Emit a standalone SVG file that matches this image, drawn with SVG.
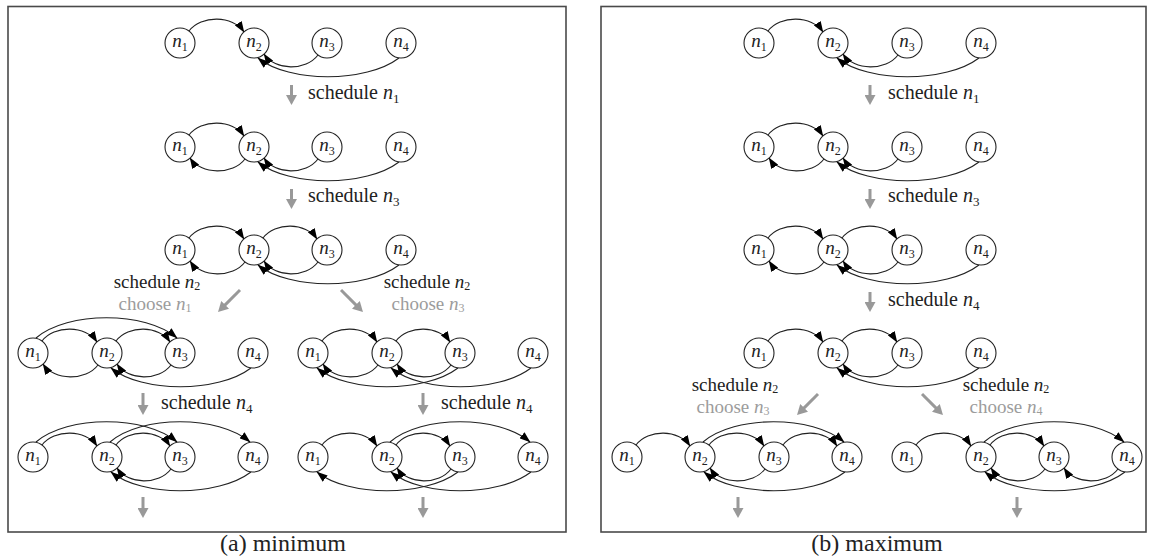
<svg xmlns="http://www.w3.org/2000/svg" width="1153" height="559" viewBox="0 0 1153 559">
<defs>
<style>
.frame{fill:none;stroke:#4a4a4a;stroke-width:1.6}
.e{fill:none;stroke:#222;stroke-width:1.1;marker-end:url(#ah)}
.g{stroke:#999;stroke-width:3;marker-end:url(#gh)}
.t{font-size:20px;fill:#222}
.b{font-size:19px}
.mid{text-anchor:middle}
.c{fill:#9c9c9c}
.m{font-style:italic}
.s{font-size:13px}
.b .s{font-size:12px}
.cap{font-size:24px;fill:#222;text-anchor:middle}
.node circle{fill:#fff;stroke:#222;stroke-width:1.1}
.node text{font-size:19px;fill:#222;text-anchor:middle}
.node .s{font-size:12px}
</style>
<marker id="ah" viewBox="0 0 11 8" refX="10.5" refY="4" markerWidth="11" markerHeight="8" orient="auto" markerUnits="userSpaceOnUse"><path d="M0,0 L11,4 L0,8 z" fill="#000"/></marker>
<marker id="gh" viewBox="0 0 10 11" refX="1" refY="5.5" markerWidth="10" markerHeight="11" orient="auto" markerUnits="userSpaceOnUse"><path d="M0,0 L10,5.5 L0,11 z" fill="#999"/></marker>
</defs>
<rect class="frame" x="8" y="6.5" width="558" height="525.5"/>
<rect class="frame" x="601" y="6.5" width="545" height="525.5"/>
<g id="connectors">
<path class="e" d="M189,31 C201,15 233,15 244,32"/>
<path class="e" d="M318,55 C306,71 275,71 264,54"/>
<path class="e" d="M399,58 C366,83 289,83 258,58"/>
<path class="e" d="M189,135 C201,119 233,119 244,136"/>
<path class="e" d="M245,159 C233,175 201,175 190,158"/>
<path class="e" d="M318,159 C306,175 275,175 264,158"/>
<path class="e" d="M399,162 C366,187 289,187 258,162"/>
<path class="e" d="M189,238 C201,222 233,222 244,239"/>
<path class="e" d="M245,262 C233,278 201,278 190,261"/>
<path class="e" d="M263,238 C275,222 306,222 317,239"/>
<path class="e" d="M318,262 C306,278 275,278 264,261"/>
<path class="e" d="M399,265 C366,290 289,290 258,265"/>
<path class="e" d="M36,338 C68,311 145,311 177,338"/>
<path class="e" d="M42,341 C54,325 86,325 97,342"/>
<path class="e" d="M98,365 C86,381 54,381 43,364"/>
<path class="e" d="M116,341 C128,325 159,325 170,342"/>
<path class="e" d="M171,365 C159,381 128,381 117,364"/>
<path class="e" d="M251,368 C218,393 142,393 111,368"/>
<path class="e" d="M36,442 C68,415 145,415 177,442"/>
<path class="e" d="M42,445 C54,429 86,429 97,446"/>
<path class="e" d="M110,442 C142,415 218,415 250,442"/>
<path class="e" d="M116,445 C128,429 159,429 170,446"/>
<path class="e" d="M171,469 C159,485 128,485 117,468"/>
<path class="e" d="M251,472 C218,497 142,497 111,472"/>
<path class="e" d="M322,341 C334,325 366,325 377,342"/>
<path class="e" d="M378,365 C366,381 334,381 323,364"/>
<path class="e" d="M396,341 C408,325 439,325 450,342"/>
<path class="e" d="M451,365 C439,381 408,381 397,364"/>
<path class="e" d="M531,368 C498,393 422,393 391,368"/>
<path class="e" d="M458,368 C425,393 348,393 317,368"/>
<path class="e" d="M322,445 C334,429 366,429 377,446"/>
<path class="e" d="M390,442 C422,415 498,415 530,442"/>
<path class="e" d="M396,445 C408,429 439,429 450,446"/>
<path class="e" d="M451,469 C439,485 408,485 397,468"/>
<path class="e" d="M531,472 C498,497 422,497 391,472"/>
<path class="e" d="M458,472 C425,497 348,497 317,472"/>
<path class="e" d="M768,31 C780,15 812,15 823,32"/>
<path class="e" d="M898,55 C886,71 854,71 843,54"/>
<path class="e" d="M979,58 C946,83 868,83 837,58"/>
<path class="e" d="M768,135 C780,119 812,119 823,136"/>
<path class="e" d="M824,159 C812,175 780,175 769,158"/>
<path class="e" d="M898,159 C886,175 854,175 843,158"/>
<path class="e" d="M979,162 C946,187 868,187 837,162"/>
<path class="e" d="M768,238 C780,222 812,222 823,239"/>
<path class="e" d="M824,262 C812,278 780,278 769,261"/>
<path class="e" d="M842,238 C854,222 886,222 897,239"/>
<path class="e" d="M898,262 C886,278 854,278 843,261"/>
<path class="e" d="M979,265 C946,290 868,290 837,265"/>
<path class="e" d="M768,341 C780,325 812,325 823,342"/>
<path class="e" d="M842,341 C854,325 886,325 897,342"/>
<path class="e" d="M898,365 C886,381 854,381 843,364"/>
<path class="e" d="M979,368 C946,393 868,393 837,368"/>
<path class="e" d="M636,445 C648,429 679,429 690,446"/>
<path class="e" d="M709,445 C721,429 753,429 764,446"/>
<path class="e" d="M783,445 C795,429 826,429 837,446"/>
<path class="e" d="M703,442 C735,415 812,415 844,442"/>
<path class="e" d="M765,469 C753,485 721,485 710,468"/>
<path class="e" d="M845,472 C812,497 735,497 704,472"/>
<path class="e" d="M916,445 C928,429 960,429 971,446"/>
<path class="e" d="M990,445 C1002,429 1033,429 1044,446"/>
<path class="e" d="M984,442 C1016,415 1092,415 1124,442"/>
<path class="e" d="M1045,469 C1033,485 1002,485 991,468"/>
<path class="e" d="M1118,469 C1106,485 1075,485 1064,468"/>
<path class="e" d="M1125,472 C1092,497 1016,497 985,472"/>
<line class="g" x1="291.5" y1="85" x2="291.5" y2="96"/>
<line class="g" x1="291.5" y1="189" x2="291.5" y2="200"/>
<line class="g" x1="240" y1="290" x2="224.4" y2="305.6"/>
<line class="g" x1="341" y1="290" x2="356.6" y2="305.6"/>
<line class="g" x1="143" y1="393" x2="143" y2="406"/>
<line class="g" x1="423" y1="393" x2="423" y2="406"/>
<line class="g" x1="143" y1="497" x2="143" y2="509"/>
<line class="g" x1="423" y1="497" x2="423" y2="509"/>
<line class="g" x1="870" y1="85" x2="870" y2="96"/>
<line class="g" x1="870" y1="189" x2="870" y2="200"/>
<line class="g" x1="870" y1="292" x2="870" y2="303"/>
<line class="g" x1="818" y1="394" x2="803.4" y2="408.6"/>
<line class="g" x1="922" y1="394" x2="936.6" y2="408.6"/>
<line class="g" x1="738" y1="497" x2="738" y2="509"/>
<line class="g" x1="1017" y1="497" x2="1017" y2="509"/>
</g>
<g id="nodes" font-family="'Liberation Serif', 'DejaVu Serif', 'Noto Serif', Times, serif">
<g id="a-r1-n1" class="node"><circle cx="180" cy="43" r="15"/><text x="180" y="47"><tspan class="m">n</tspan><tspan class="s" dy="4">1</tspan></text></g>
<g id="a-r1-n2" class="node"><circle cx="254" cy="43" r="15"/><text x="254" y="47"><tspan class="m">n</tspan><tspan class="s" dy="4">2</tspan></text></g>
<g id="a-r1-n3" class="node"><circle cx="327" cy="43" r="15"/><text x="327" y="47"><tspan class="m">n</tspan><tspan class="s" dy="4">3</tspan></text></g>
<g id="a-r1-n4" class="node"><circle cx="401" cy="43" r="15"/><text x="401" y="47"><tspan class="m">n</tspan><tspan class="s" dy="4">4</tspan></text></g>
<g id="a-r2-n1" class="node"><circle cx="180" cy="147" r="15"/><text x="180" y="151"><tspan class="m">n</tspan><tspan class="s" dy="4">1</tspan></text></g>
<g id="a-r2-n2" class="node"><circle cx="254" cy="147" r="15"/><text x="254" y="151"><tspan class="m">n</tspan><tspan class="s" dy="4">2</tspan></text></g>
<g id="a-r2-n3" class="node"><circle cx="327" cy="147" r="15"/><text x="327" y="151"><tspan class="m">n</tspan><tspan class="s" dy="4">3</tspan></text></g>
<g id="a-r2-n4" class="node"><circle cx="401" cy="147" r="15"/><text x="401" y="151"><tspan class="m">n</tspan><tspan class="s" dy="4">4</tspan></text></g>
<g id="a-r3-n1" class="node"><circle cx="180" cy="250" r="15"/><text x="180" y="254"><tspan class="m">n</tspan><tspan class="s" dy="4">1</tspan></text></g>
<g id="a-r3-n2" class="node"><circle cx="254" cy="250" r="15"/><text x="254" y="254"><tspan class="m">n</tspan><tspan class="s" dy="4">2</tspan></text></g>
<g id="a-r3-n3" class="node"><circle cx="327" cy="250" r="15"/><text x="327" y="254"><tspan class="m">n</tspan><tspan class="s" dy="4">3</tspan></text></g>
<g id="a-r3-n4" class="node"><circle cx="401" cy="250" r="15"/><text x="401" y="254"><tspan class="m">n</tspan><tspan class="s" dy="4">4</tspan></text></g>
<g id="a-l4-n1" class="node"><circle cx="33" cy="353" r="15"/><text x="33" y="357"><tspan class="m">n</tspan><tspan class="s" dy="4">1</tspan></text></g>
<g id="a-l4-n2" class="node"><circle cx="107" cy="353" r="15"/><text x="107" y="357"><tspan class="m">n</tspan><tspan class="s" dy="4">2</tspan></text></g>
<g id="a-l4-n3" class="node"><circle cx="180" cy="353" r="15"/><text x="180" y="357"><tspan class="m">n</tspan><tspan class="s" dy="4">3</tspan></text></g>
<g id="a-l4-n4" class="node"><circle cx="253" cy="353" r="15"/><text x="253" y="357"><tspan class="m">n</tspan><tspan class="s" dy="4">4</tspan></text></g>
<g id="a-l5-n1" class="node"><circle cx="33" cy="457" r="15"/><text x="33" y="461"><tspan class="m">n</tspan><tspan class="s" dy="4">1</tspan></text></g>
<g id="a-l5-n2" class="node"><circle cx="107" cy="457" r="15"/><text x="107" y="461"><tspan class="m">n</tspan><tspan class="s" dy="4">2</tspan></text></g>
<g id="a-l5-n3" class="node"><circle cx="180" cy="457" r="15"/><text x="180" y="461"><tspan class="m">n</tspan><tspan class="s" dy="4">3</tspan></text></g>
<g id="a-l5-n4" class="node"><circle cx="253" cy="457" r="15"/><text x="253" y="461"><tspan class="m">n</tspan><tspan class="s" dy="4">4</tspan></text></g>
<g id="a-r4-n1" class="node"><circle cx="313" cy="353" r="15"/><text x="313" y="357"><tspan class="m">n</tspan><tspan class="s" dy="4">1</tspan></text></g>
<g id="a-r4-n2" class="node"><circle cx="387" cy="353" r="15"/><text x="387" y="357"><tspan class="m">n</tspan><tspan class="s" dy="4">2</tspan></text></g>
<g id="a-r4-n3" class="node"><circle cx="460" cy="353" r="15"/><text x="460" y="357"><tspan class="m">n</tspan><tspan class="s" dy="4">3</tspan></text></g>
<g id="a-r4-n4" class="node"><circle cx="533" cy="353" r="15"/><text x="533" y="357"><tspan class="m">n</tspan><tspan class="s" dy="4">4</tspan></text></g>
<g id="a-r5-n1" class="node"><circle cx="313" cy="457" r="15"/><text x="313" y="461"><tspan class="m">n</tspan><tspan class="s" dy="4">1</tspan></text></g>
<g id="a-r5-n2" class="node"><circle cx="387" cy="457" r="15"/><text x="387" y="461"><tspan class="m">n</tspan><tspan class="s" dy="4">2</tspan></text></g>
<g id="a-r5-n3" class="node"><circle cx="460" cy="457" r="15"/><text x="460" y="461"><tspan class="m">n</tspan><tspan class="s" dy="4">3</tspan></text></g>
<g id="a-r5-n4" class="node"><circle cx="533" cy="457" r="15"/><text x="533" y="461"><tspan class="m">n</tspan><tspan class="s" dy="4">4</tspan></text></g>
<g id="b-r1-n1" class="node"><circle cx="759" cy="43" r="15"/><text x="759" y="47"><tspan class="m">n</tspan><tspan class="s" dy="4">1</tspan></text></g>
<g id="b-r1-n2" class="node"><circle cx="833" cy="43" r="15"/><text x="833" y="47"><tspan class="m">n</tspan><tspan class="s" dy="4">2</tspan></text></g>
<g id="b-r1-n3" class="node"><circle cx="907" cy="43" r="15"/><text x="907" y="47"><tspan class="m">n</tspan><tspan class="s" dy="4">3</tspan></text></g>
<g id="b-r1-n4" class="node"><circle cx="981" cy="43" r="15"/><text x="981" y="47"><tspan class="m">n</tspan><tspan class="s" dy="4">4</tspan></text></g>
<g id="b-r2-n1" class="node"><circle cx="759" cy="147" r="15"/><text x="759" y="151"><tspan class="m">n</tspan><tspan class="s" dy="4">1</tspan></text></g>
<g id="b-r2-n2" class="node"><circle cx="833" cy="147" r="15"/><text x="833" y="151"><tspan class="m">n</tspan><tspan class="s" dy="4">2</tspan></text></g>
<g id="b-r2-n3" class="node"><circle cx="907" cy="147" r="15"/><text x="907" y="151"><tspan class="m">n</tspan><tspan class="s" dy="4">3</tspan></text></g>
<g id="b-r2-n4" class="node"><circle cx="981" cy="147" r="15"/><text x="981" y="151"><tspan class="m">n</tspan><tspan class="s" dy="4">4</tspan></text></g>
<g id="b-r3-n1" class="node"><circle cx="759" cy="250" r="15"/><text x="759" y="254"><tspan class="m">n</tspan><tspan class="s" dy="4">1</tspan></text></g>
<g id="b-r3-n2" class="node"><circle cx="833" cy="250" r="15"/><text x="833" y="254"><tspan class="m">n</tspan><tspan class="s" dy="4">2</tspan></text></g>
<g id="b-r3-n3" class="node"><circle cx="907" cy="250" r="15"/><text x="907" y="254"><tspan class="m">n</tspan><tspan class="s" dy="4">3</tspan></text></g>
<g id="b-r3-n4" class="node"><circle cx="981" cy="250" r="15"/><text x="981" y="254"><tspan class="m">n</tspan><tspan class="s" dy="4">4</tspan></text></g>
<g id="b-r4-n1" class="node"><circle cx="759" cy="353" r="15"/><text x="759" y="357"><tspan class="m">n</tspan><tspan class="s" dy="4">1</tspan></text></g>
<g id="b-r4-n2" class="node"><circle cx="833" cy="353" r="15"/><text x="833" y="357"><tspan class="m">n</tspan><tspan class="s" dy="4">2</tspan></text></g>
<g id="b-r4-n3" class="node"><circle cx="907" cy="353" r="15"/><text x="907" y="357"><tspan class="m">n</tspan><tspan class="s" dy="4">3</tspan></text></g>
<g id="b-r4-n4" class="node"><circle cx="981" cy="353" r="15"/><text x="981" y="357"><tspan class="m">n</tspan><tspan class="s" dy="4">4</tspan></text></g>
<g id="b-l5-n1" class="node"><circle cx="627" cy="457" r="15"/><text x="627" y="461"><tspan class="m">n</tspan><tspan class="s" dy="4">1</tspan></text></g>
<g id="b-l5-n2" class="node"><circle cx="700" cy="457" r="15"/><text x="700" y="461"><tspan class="m">n</tspan><tspan class="s" dy="4">2</tspan></text></g>
<g id="b-l5-n3" class="node"><circle cx="774" cy="457" r="15"/><text x="774" y="461"><tspan class="m">n</tspan><tspan class="s" dy="4">3</tspan></text></g>
<g id="b-l5-n4" class="node"><circle cx="847" cy="457" r="15"/><text x="847" y="461"><tspan class="m">n</tspan><tspan class="s" dy="4">4</tspan></text></g>
<g id="b-r5-n1" class="node"><circle cx="907" cy="457" r="15"/><text x="907" y="461"><tspan class="m">n</tspan><tspan class="s" dy="4">1</tspan></text></g>
<g id="b-r5-n2" class="node"><circle cx="981" cy="457" r="15"/><text x="981" y="461"><tspan class="m">n</tspan><tspan class="s" dy="4">2</tspan></text></g>
<g id="b-r5-n3" class="node"><circle cx="1054" cy="457" r="15"/><text x="1054" y="461"><tspan class="m">n</tspan><tspan class="s" dy="4">3</tspan></text></g>
<g id="b-r5-n4" class="node"><circle cx="1127" cy="457" r="15"/><text x="1127" y="461"><tspan class="m">n</tspan><tspan class="s" dy="4">4</tspan></text></g>
</g>
<g id="labels" font-family="'Liberation Serif', 'DejaVu Serif', 'Noto Serif', Times, serif">
<text class="t" x="308" y="99">schedule <tspan class="m">n</tspan><tspan class="s" dy="4">1</tspan></text>
<text class="t" x="308" y="202">schedule <tspan class="m">n</tspan><tspan class="s" dy="4">3</tspan></text>
<text class="t b mid" x="157" y="288">schedule <tspan class="m">n</tspan><tspan class="s" dy="2">2</tspan></text>
<text class="t b mid c" x="155" y="310">choose <tspan class="m">n</tspan><tspan class="s" dy="2">1</tspan></text>
<text class="t b mid" x="427" y="288">schedule <tspan class="m">n</tspan><tspan class="s" dy="2">2</tspan></text>
<text class="t b mid c" x="428" y="310">choose <tspan class="m">n</tspan><tspan class="s" dy="2">3</tspan></text>
<text class="t" x="161" y="409">schedule <tspan class="m">n</tspan><tspan class="s" dy="4">4</tspan></text>
<text class="t" x="441" y="409">schedule <tspan class="m">n</tspan><tspan class="s" dy="4">4</tspan></text>
<text class="t" x="888" y="99">schedule <tspan class="m">n</tspan><tspan class="s" dy="4">1</tspan></text>
<text class="t" x="888" y="202">schedule <tspan class="m">n</tspan><tspan class="s" dy="4">3</tspan></text>
<text class="t" x="888" y="306">schedule <tspan class="m">n</tspan><tspan class="s" dy="4">4</tspan></text>
<text class="t b mid" x="735" y="391">schedule <tspan class="m">n</tspan><tspan class="s" dy="2">2</tspan></text>
<text class="t b mid c" x="733" y="413">choose <tspan class="m">n</tspan><tspan class="s" dy="2">3</tspan></text>
<text class="t b mid" x="1006" y="391">schedule <tspan class="m">n</tspan><tspan class="s" dy="2">2</tspan></text>
<text class="t b mid c" x="1006" y="413">choose <tspan class="m">n</tspan><tspan class="s" dy="2">4</tspan></text>
<text class="cap" x="283" y="551">(a) minimum</text>
<text class="cap" x="877" y="551">(b) maximum</text>
</g>
</svg>
